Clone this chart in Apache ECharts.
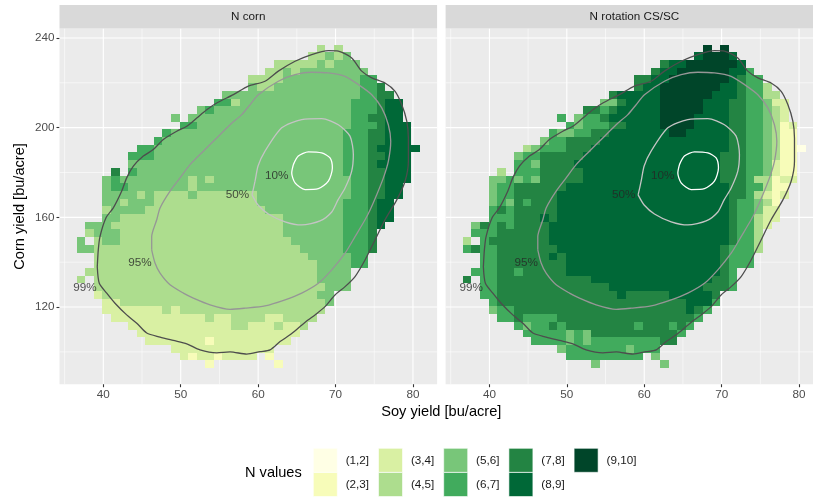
<!DOCTYPE html>
<html>
<head>
<meta charset="utf-8">
<script src="https://cdn.jsdelivr.net/npm/echarts@6/dist/echarts.min.js"></script>
<style>
  html, body { margin: 0; padding: 0; background: #ffffff; }
  #chart { width: 813px; height: 498px; }
</style>
</head>
<body>
<div id="chart"></div>
<script>
const FONT = '"Liberation Sans", Arial, Helvetica, sans-serif';

// N value classes (legend) and their fills
const classLabels = ['(1,2]', '(2,3]', '(3,4]', '(4,5]', '(5,6]', '(6,7]', '(7,8]', '(8,9]', '(9,10]'];
const classColors = ['#ffffe5', '#f7fcb9', '#d9f0a3', '#addd8e', '#78c679', '#41ab5d', '#238443', '#006837', '#004529'];

const panelTitles = ['N corn', 'N rotation CS/SC'];

// axes
const xTicks = [40, 50, 60, 70, 80];
const xMinorTicks = [35, 45, 55, 65, 75];
const yTicks = [120, 160, 200, 240];
const yMinorTicks = [100, 140, 180, 220];
const xRange = [34.34, 83.12];
const yRange = [85.59, 244.21];

// 2d bins: 40 soy columns, 42 corn rows (row 0 = top)
const xBinStart = 36.56, xBinWidth = 1.108;
const yBinTop = 237.0, yBinHeight = 3.433;

// one char per bin ('|' every 10 columns): '.' = no data, d = class (d,d+1]
const cornRows = [
  '..........|..........|........4.|4.........',
  '..........|..........|.......445|45........',
  '..........|..........|...4444454|555.......',
  '..........|..........|..44545555|5555......',
  '..........|..........|4444555555|55566.....',
  '..........|..........|5445555555|555667....',
  '..........|.......555|5555555555|5556677...',
  '..........|......6645|5555555555|55666788..',
  '..........|....565555|5555555555|55666788..',
  '..........|.5.5555555|5555555555|55667788..',
  '..........|..66555555|5555555555|556667888.',
  '..........|6555555555|5555555555|566677888.',
  '.........6|5555555555|5555555555|566677888.',
  '.......665|5555555555|5555555555|5666788888',
  '......6665|5555555555|5555555555|566677888.',
  '......5555|5555555555|5555555555|566678888.',
  '....7.6555|5555555555|5555555555|566677888.',
  '...5655555|5554545555|5555555555|556677888.',
  '...5665555|5554555555|5555555555|55667788..',
  '...5555454|4445444444|4555555555|55667788..',
  '...5545554|4444444444|4555555555|5666788...',
  '...4555544|4444444444|4455555555|5666788...',
  '...5544444|4444444444|4444555555|5666788...',
  '.555444444|4444444444|4444555555|566678....',
  '.455544444|4444444444|4444555555|56667.....',
  '5.45544444|4444444444|4444455555|56667.....',
  '5544444444|4444444444|4444445555|56667.....',
  '..44444444|4444444444|4444444555|5566......',
  '..44444444|4444444444|4444444455|5566......',
  '.444444444|4444444444|4444444455|55........',
  '4.44444444|4444444444|4444444455|55........',
  '..44444444|4444444444|4444444445|55........',
  '..34444444|4444444444|4444444455|..........',
  '...3344444|4444444444|4444444445|..........',
  '...3333333|4344444444|444444444.|..........',
  '....333333|3333343344|44334444..|..........',
  '......3333|3333333344|3334334...|..........',
  '.......333|3333333333|333333....|..........',
  '........33|3333323333|33333.....|..........',
  '..........|.333333333|333.......|..........',
  '..........|..32332333|3.2.......|..........',
  '..........|.....2....|...2......|..........'
];

const rotationRows = [
  '..........|..........|........9.|9.........',
  '..........|..........|.......899|98........',
  '..........|..........|...7889999|998.......',
  '..........|..........|..78899999|9886......',
  '..........|..........|7788999999|98766.....',
  '..........|..........|7889999999|887664....',
  '..........|.......788|8889999998|8876644...',
  '..........|......5578|8889999988|87766533..',
  '..........|....776788|8889999988|87766543..',
  '..........|.6.5667888|8889999888|87766543..',
  '..........|..65666778|8889999888|877665423.',
  '..........|6556677888|8888998888|877665422.',
  '.........5|6677778888|8888888888|877665422.',
  '.......456|6677788888|8888888888|8776654221',
  '......5667|7777888888|8888888888|777665422.',
  '......6657|7778888888|8888888888|777665322.',
  '....4.6667|7777888888|8888888888|777665322.',
  '...5565657|7777888888|8888888888|777644233.',
  '...5667777|7788888888|8888888888|87766422..',
  '...5667777|7888888888|8888888888|87764323..',
  '...5657677|7888888888|8888888888|8766542...',
  '...6767777|7888888888|8888888888|8766533...',
  '...6667778|7888888888|8888888888|8766433...',
  '.576767777|8888888888|8888888888|876643....',
  '.666777777|8888888888|8888888888|87664.....',
  '4.67777777|8888888888|8888888888|87664.....',
  '6766777777|7888888888|8888888888|76664.....',
  '..66777777|8788888888|8888888888|7666......',
  '..66777777|7788888888|8888888888|7666......',
  '.666776777|7788888888|8888888888|76........',
  '7.66777777|7777788888|8888888887|76........',
  '..66777777|7777777888|8888888877|76........',
  '..66777777|7777777787|7777888887|..........',
  '...6777777|7777777777|7777778886|..........',
  '...5667777|7777777777|777777876.|..........',
  '....667666|6777777777|77777776..|..........',
  '......6566|7677777777|6777676...|..........',
  '.......666|6656577777|777776....|..........',
  '........66|6656566666|66677.....|..........',
  '..........|.566666665|666.......|..........',
  '..........|..66666666|6.5.......|..........',
  '..........|.....5....|...5......|..........'
];

// density contours (share of observations enclosed), soy x corn
const contour99 = [
  [39.22, 138.0], [39.48, 130.6], [40.44, 126.2], [41.51, 121.7], [43.02, 116.5], [44.32, 112.8],
  [45.61, 108.4], [47.33, 106.6], [49.04, 105.1], [50.78, 103.6], [52.49, 100.9], [54.65, 99.6],
  [56.37, 100.0], [58.53, 99.0], [60.25, 100.1], [61.54, 100.9], [62.83, 104.6], [64.12, 107.6],
  [65.42, 111.3], [66.49, 114.3], [67.35, 116.5], [68.64, 120.2], [69.93, 125.4], [71.23, 129.1],
  [72.52, 133.6], [73.81, 141.0], [75.10, 149.9], [76.39, 158.9], [77.91, 167.8], [78.98, 176.1],
  [79.41, 185.0], [79.41, 195.4], [79.20, 202.9], [78.55, 210.3], [77.69, 216.2], [76.39, 219.9],
  [74.68, 222.2], [73.38, 225.2], [72.09, 231.1], [70.36, 234.1], [69.07, 234.3], [66.92, 232.6],
  [64.77, 229.6], [62.61, 225.2], [60.89, 220.7], [58.73, 218.5], [56.80, 214.7], [54.65, 211.0],
  [53.36, 208.0], [52.07, 204.3], [50.78, 200.6], [49.48, 198.4], [47.75, 194.7], [46.46, 190.2],
  [45.17, 187.3], [43.88, 182.8], [43.02, 177.6], [42.38, 171.7], [41.29, 164.2], [40.35, 159.8],
  [39.57, 151.4], [39.35, 145.5], [39.22, 138.0]
];
const contour95 = [
  [46.25, 145.5], [46.25, 151.4], [46.90, 158.9], [47.33, 164.2], [48.62, 171.7], [49.91, 177.6],
  [51.20, 183.5], [52.92, 189.5], [54.65, 195.4], [56.37, 201.3], [57.88, 205.8], [58.90, 210.0],
  [60.03, 214.7], [62.61, 220.7], [64.77, 223.6], [66.92, 224.7], [69.07, 224.4], [71.23, 222.9],
  [72.95, 219.2], [74.68, 214.7], [75.97, 208.8], [76.82, 201.3], [77.13, 193.9], [76.82, 185.0],
  [76.18, 177.6], [75.32, 170.1], [74.46, 163.3], [73.81, 158.9], [72.52, 151.4], [71.23, 144.0],
  [69.51, 136.6], [67.78, 130.6], [65.63, 126.2], [63.48, 123.2], [60.89, 120.5], [58.31, 119.5],
  [56.37, 119.0], [53.79, 121.0], [51.63, 124.0], [50.34, 126.2], [48.62, 129.9], [47.33, 135.1],
  [46.68, 139.6], [46.25, 145.5]
];
const contour50 = [
  [59.21, 170.0], [59.60, 176.1], [60.00, 183.0], [60.89, 189.5], [63.05, 199.9], [65.63, 203.6],
  [68.22, 204.0], [70.36, 201.3], [71.87, 196.2], [72.30, 188.0], [72.09, 180.6], [71.23, 173.1],
  [70.32, 167.8], [69.51, 162.4], [68.00, 158.4], [65.63, 156.6], [63.48, 158.0], [61.32, 161.5],
  [59.99, 165.5], [59.21, 170.0]
];
const contour10 = [
  [64.55, 183.5], [65.19, 187.3], [66.49, 189.2], [68.22, 188.7], [69.29, 186.5], [69.59, 182.0],
  [69.07, 176.1], [67.78, 172.8], [66.06, 172.4], [64.77, 175.4], [64.34, 179.8], [64.55, 183.5]
];
const contourLabelText = ['10%', '50%', '95%', '99%'];
const contourLabelX = [62.40, 57.34, 44.74, 37.64];
const contourLabelY = [178.7, 170.1, 139.6, 128.4];

// ---- build series data ----
function tilesFrom(rows) {
  const out = [];
  rows.forEach((line, r) => {
    const row = line.split('|').join('');
    for (let i = 0; i < row.length; i++) {
      const ch = row[i];
      if (ch === '.') continue;
      out.push([xBinStart + (i + 0.5) * xBinWidth, yBinTop - (r + 0.5) * yBinHeight, Number(ch)]);
    }
  });
  return out;
}

const gridLineData = [];
xTicks.forEach(v => gridLineData.push([v, 0, 1]));
xMinorTicks.forEach(v => gridLineData.push([v, 0, 0]));
yTicks.forEach(v => gridLineData.push([v, 1, 1]));
yMinorTicks.forEach(v => gridLineData.push([v, 1, 0]));

function renderGridLine(params, api) {
  const cs = params.coordSys;
  const v = api.value(0), dir = api.value(1), major = api.value(2);
  let shape;
  if (dir === 0) {
    const px = api.coord([v, yRange[0]])[0];
    shape = { x1: px, y1: cs.y, x2: px, y2: cs.y + cs.height };
  } else {
    const py = api.coord([xRange[0], v])[1];
    shape = { x1: cs.x, y1: py, x2: cs.x + cs.width, y2: py };
  }
  return { type: 'line', shape: shape, style: { stroke: '#ffffff', lineWidth: major ? 1.1 : 0.55 } };
}

// tiles snapped to whole pixels so neighbours meet without seams
function renderTile(params, api) {
  const cx = api.value(0), cy = api.value(1), k = api.value(2);
  const a = api.coord([cx - xBinWidth / 2, cy + yBinHeight / 2]);
  const b = api.coord([cx + xBinWidth / 2, cy - yBinHeight / 2]);
  const x0 = Math.round(a[0]), y0 = Math.round(a[1]);
  const x1 = Math.round(b[0]), y1 = Math.round(b[1]);
  return {
    type: 'rect',
    shape: { x: x0, y: y0, width: x1 - x0, height: y1 - y0 },
    style: { fill: classColors[k - 1] }
  };
}

const contours = [
  { data: contour99, color: '#4d4d4d' },
  { data: contour95, color: '#969696' },
  { data: contour50, color: '#c4c4c4' },
  { data: contour10, color: '#ffffff' }
];

const gridBoxes = [
  { left: 59.5, top: 28.5, width: 377.6, height: 355.7 },
  { left: 445.6, top: 28.5, width: 377.6, height: 355.7 }
];

const grids = [], xAxes = [], yAxes = [], series = [];
[cornRows, rotationRows].forEach((rows, g) => {
  grids.push(Object.assign({ show: true, backgroundColor: '#ebebeb', borderWidth: 0, containLabel: false, outerBoundsMode: 'none' }, gridBoxes[g]));
  xAxes.push({
    type: 'value', gridIndex: g, min: xRange[0], max: xRange[1],
    axisLine: { show: false },
    axisTick: { show: true, customValues: xTicks, length: 3, lineStyle: { color: '#333333', width: 1.1 } },
    axisLabel: { show: true, customValues: xTicks, color: '#4d4d4d', fontSize: 11.7, margin: 4.5, fontFamily: FONT },
    splitLine: { show: false }
  });
  yAxes.push({
    type: 'value', gridIndex: g, min: yRange[0], max: yRange[1],
    axisLine: { show: false },
    axisTick: { show: g === 0, customValues: yTicks, length: 3, lineStyle: { color: '#333333', width: 1.1 } },
    axisLabel: { show: g === 0, customValues: yTicks, color: '#4d4d4d', fontSize: 11.7, margin: 5, fontFamily: FONT },
    splitLine: { show: false }
  });
  series.push({
    type: 'custom', xAxisIndex: g, yAxisIndex: g, renderItem: renderGridLine,
    data: gridLineData, z: 1, silent: true, clip: true
  });
  series.push({
    type: 'custom', xAxisIndex: g, yAxisIndex: g, renderItem: renderTile,
    data: tilesFrom(rows), z: 2, silent: true, clip: true
  });
  contours.forEach(c => {
    series.push({
      type: 'line', xAxisIndex: g, yAxisIndex: g, data: c.data.slice(),
      showSymbol: false, symbol: 'none', smooth: 0.25, silent: true, z: 3,
      lineStyle: { color: c.color, width: 1.3 }
    });
  });
  series.push({
    type: 'scatter', xAxisIndex: g, yAxisIndex: g, symbolSize: 0, silent: true, z: 4,
    data: contourLabelText.map((t, i) => ({ name: t, value: [contourLabelX[i], contourLabelY[i]] })),
    label: { show: true, position: 'inside', formatter: '{b}', color: '#262626', fontSize: 11.7, fontFamily: FONT }
  });
});

// strips, axis titles and the legend
const graphics = [];
gridBoxes.forEach((b, g) => {
  graphics.push({ type: 'rect', left: b.left, top: 5, shape: { width: b.width, height: 23.5 }, style: { fill: '#d9d9d9' }, silent: true });
  graphics.push({
    type: 'text', x: b.left + b.width / 2, y: 16.8, silent: true,
    style: { text: panelTitles[g], fill: '#1a1a1a', font: '11.7px ' + FONT, textAlign: 'center', textVerticalAlign: 'middle' }
  });
});
graphics.push({
  type: 'text', x: 441.3, y: 412, silent: true,
  style: { text: 'Soy yield [bu/acre]', fill: '#000000', font: '14.6px ' + FONT, textAlign: 'center', textVerticalAlign: 'middle' }
});
graphics.push({
  type: 'text', x: 20, y: 206.4, rotation: Math.PI / 2, silent: true,
  style: { text: 'Corn yield [bu/acre]', fill: '#000000', font: '14.6px ' + FONT, textAlign: 'center', textVerticalAlign: 'middle' }
});
graphics.push({
  type: 'text', x: 245, y: 472.5, silent: true,
  style: { text: 'N values', fill: '#000000', font: '14.6px ' + FONT, textAlign: 'left', textVerticalAlign: 'middle' }
});
classLabels.forEach((lab, k) => {
  const col = Math.floor(k / 2), row = k % 2;
  const kx = 313.3 + col * 65.2, ky = 448.3 + row * 24.2;
  graphics.push({ type: 'rect', x: kx, y: ky, shape: { width: 24, height: 24 }, style: { fill: classColors[k], stroke: '#ffffff', lineWidth: 0.6 }, silent: true });
  graphics.push({
    type: 'text', x: kx + 32.4, y: ky + 12.5, silent: true,
    style: { text: lab, fill: '#1a1a1a', font: '11.7px ' + FONT, textAlign: 'left', textVerticalAlign: 'middle' }
  });
});

const chart = echarts.init(document.getElementById('chart'), null, { renderer: 'canvas' });
chart.setOption({
  animation: false,
  backgroundColor: '#ffffff',
  textStyle: { fontFamily: FONT },
  grid: grids,
  xAxis: xAxes,
  yAxis: yAxes,
  series: series,
  graphic: graphics
});
</script>
</body>
</html>
